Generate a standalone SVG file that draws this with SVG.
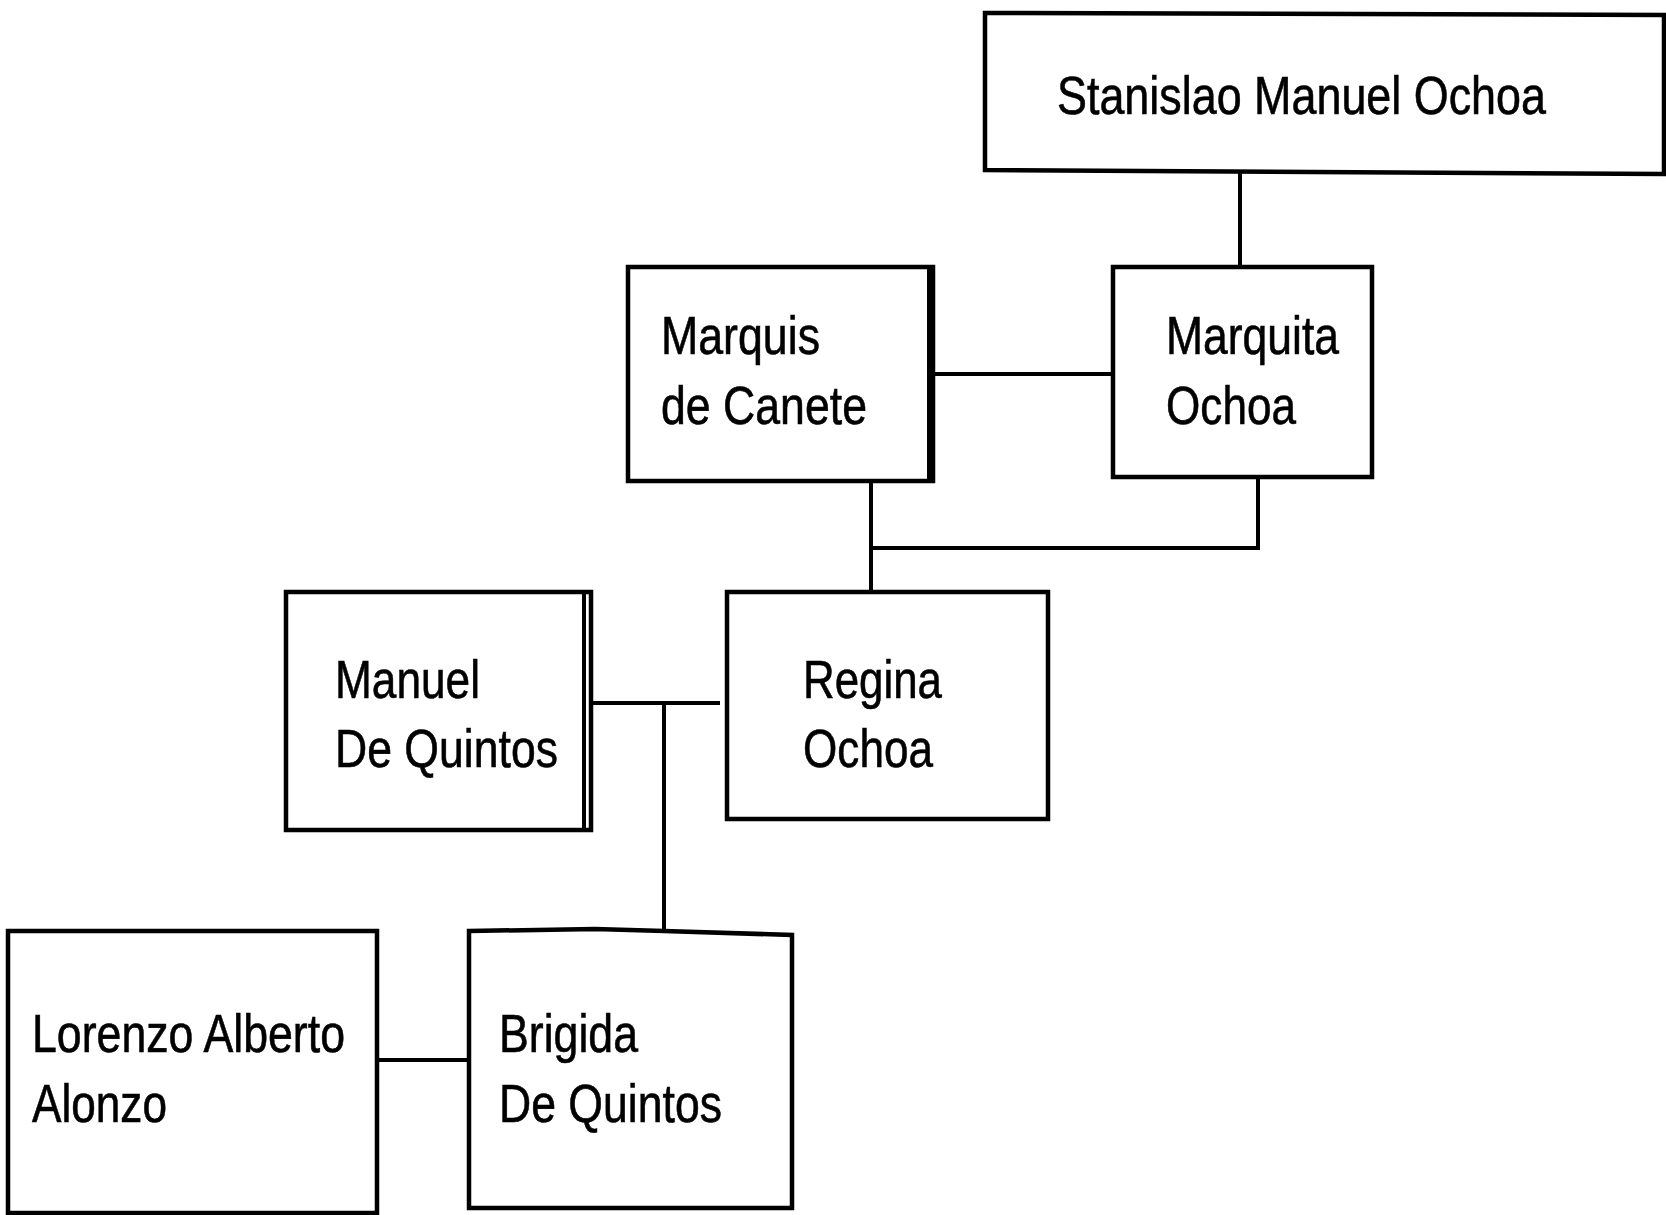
<svg xmlns="http://www.w3.org/2000/svg" width="1666" height="1215" viewBox="0 0 1666 1215">
<style>
.box{fill:#fff;stroke:#000;stroke-width:4.5}
.edge{fill:none;stroke:#000;stroke-width:4}
.conn{fill:none;stroke:#000;stroke-width:4}
.t{font-family:"Liberation Sans",Arial,sans-serif;font-size:53px;fill:#000;stroke:#000;stroke-width:0.6}
</style>
<rect width="1666" height="1215" fill="#fff"/>
<g id="connectors">
<line class="conn" x1="1240" y1="172" x2="1240" y2="267"/>
<line class="conn" x1="933" y1="374" x2="1113" y2="374"/>
<polyline class="conn" points="871,481 871,592"/>
<polyline class="conn" points="1258,477 1258,548 871,548"/>
<line class="conn" x1="591" y1="703" x2="720" y2="703"/>
<line class="conn" x1="664" y1="703" x2="664" y2="931"/>
<line class="conn" x1="377" y1="1060" x2="469" y2="1060"/>
</g>
<g id="stanislao">
<path class="box" d="M985,13 L1664,15 L1664,174 L985,170 Z"/>
<text class="t" x="1057" y="114" textLength="489" lengthAdjust="spacingAndGlyphs">Stanislao Manuel Ochoa</text>
</g>
<g id="marquis">
<rect class="box" x="628" y="267" width="305" height="214"/>
<line class="edge" x1="929" y1="267" x2="929" y2="481"/>
<text class="t" x="661" y="354" textLength="159" lengthAdjust="spacingAndGlyphs">Marquis</text>
<text class="t" x="661" y="424" textLength="206" lengthAdjust="spacingAndGlyphs">de Canete</text>
</g>
<g id="marquita">
<rect class="box" x="1113" y="267" width="259" height="210"/>
<text class="t" x="1166" y="354" textLength="173" lengthAdjust="spacingAndGlyphs">Marquita</text>
<text class="t" x="1166" y="424" textLength="130" lengthAdjust="spacingAndGlyphs">Ochoa</text>
</g>
<g id="regina">
<rect class="box" x="727" y="592" width="321" height="227"/>
<text class="t" x="803" y="698" textLength="139" lengthAdjust="spacingAndGlyphs">Regina</text>
<text class="t" x="803" y="767" textLength="130" lengthAdjust="spacingAndGlyphs">Ochoa</text>
</g>
<g id="manuel">
<rect class="box" x="286" y="592" width="305" height="238"/>
<line class="edge" x1="584" y1="592" x2="584" y2="830"/>
<text class="t" x="335" y="698" textLength="145" lengthAdjust="spacingAndGlyphs">Manuel</text>
<text class="t" x="335" y="767" textLength="223" lengthAdjust="spacingAndGlyphs">De Quintos</text>
</g>
<g id="lorenzo">
<rect class="box" x="8" y="931" width="369" height="282"/>
<text class="t" x="32" y="1052" textLength="313" lengthAdjust="spacingAndGlyphs">Lorenzo Alberto</text>
<text class="t" x="32" y="1122" textLength="135" lengthAdjust="spacingAndGlyphs">Alonzo</text>
</g>
<g id="brigida">
<path class="box" d="M469,931 L595,929 L664,931 L792,935 L792,1208 L469,1208 Z"/>
<text class="t" x="499" y="1052" textLength="139" lengthAdjust="spacingAndGlyphs">Brigida</text>
<text class="t" x="499" y="1122" textLength="223" lengthAdjust="spacingAndGlyphs">De Quintos</text>
</g>
</svg>
